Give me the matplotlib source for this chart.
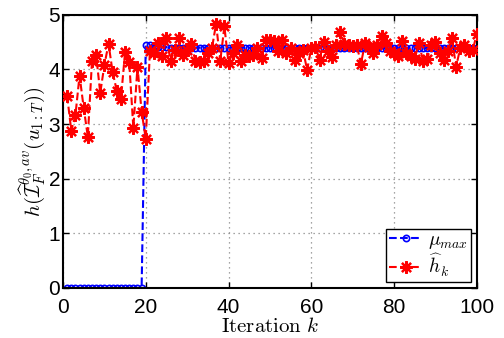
import numpy as np
import matplotlib
matplotlib.use("Agg")
import matplotlib.pyplot as plt

plt.rcParams['mathtext.fontset'] = 'cm'
plt.rcParams['font.family'] = ['Liberation Sans', 'DejaVu Sans']

# iterations
k = np.arange(1, 101)

# mu_max: zero until iteration 19, then jumps
mu_max = [0.0] * 19 + [4.44, 4.44, 4.43, 4.42, 4.42, 4.41] + [4.40] * 35 + [4.39] * 40

# h_k estimates
h_k = [3.52, 2.88, 3.16, 3.89, 3.30, 2.77, 4.15, 4.27, 3.57, 4.08,
       4.47, 3.95, 3.61, 3.46, 4.32, 4.14, 2.93, 4.05, 3.23, 2.73,
       4.33, 4.30, 4.48, 4.25, 4.57, 4.16, 4.36, 4.57, 4.27, 4.36,
       4.47, 4.15, 4.13, 4.15, 4.30, 4.39, 4.84, 4.15, 4.79, 4.12,
       4.30, 4.45, 4.15, 4.27, 4.25, 4.27, 4.39, 4.21, 4.54, 4.54,
       4.53, 4.33, 4.54, 4.30, 4.39, 4.18, 4.30, 4.36, 3.99, 4.39,
       4.42, 4.18, 4.51, 4.33, 4.22, 4.45, 4.69, 4.47, 4.45, 4.43,
       4.45, 4.10, 4.49, 4.42, 4.30, 4.45, 4.62, 4.49, 4.33, 4.30,
       4.25, 4.53, 4.30, 4.25, 4.19, 4.49, 4.16, 4.19, 4.45, 4.51,
       4.30, 4.18, 4.33, 4.57, 4.05, 4.39, 4.45, 4.33, 4.35, 4.65]

xticks = [0, 20, 40, 60, 80, 100]
yticks = [0, 1, 2, 3, 4, 5]

fig = plt.figure(figsize=(5.04, 3.38), dpi=100)
ax = fig.add_axes([0.125, 0.148, 0.821, 0.808])

ax.plot(k, mu_max, '--o', color='blue', linewidth=1.5, markersize=4.5,
        markerfacecolor='none', markeredgewidth=1.2, label=r'$\mu_{max}$', zorder=2)
ax.plot(k, h_k, '--', color='red', linewidth=1.5, marker=(8, 2, 0), markersize=9,
        markeredgewidth=1.6, label=r'$\widehat{h}_k$', zorder=3)

ax.set_xlim(0, 100)
ax.set_ylim(0, 5)
ax.set_xticks(xticks)
ax.set_yticks(yticks)
ax.tick_params(direction='in', length=4, width=1, labelsize=15,
               top=True, right=True)
ax.tick_params(axis='x', pad=7)
ax.tick_params(axis='y', pad=2)
for s in ax.spines.values():
    s.set_linewidth(1.5)
ax.grid(True, linestyle=(0, (1, 3)), color='#888888', linewidth=0.9)

ax.set_xlabel(r'$\mathrm{Iteration}\ k$', fontsize=15, labelpad=0)
ax.set_ylabel(r'$h(\widehat{\mathcal{I}}_F^{\theta_0,av}(u_{1:T}))$', fontsize=15, labelpad=1)

leg = ax.legend(loc='lower right', fontsize=14, fancybox=False, framealpha=1,
                edgecolor='black', borderpad=0.15, handlelength=1.7,
                labelspacing=0.05, borderaxespad=0.3, handletextpad=0.3)
leg.get_frame().set_linewidth(1.0)

fig.savefig('out.png', dpi=100)
